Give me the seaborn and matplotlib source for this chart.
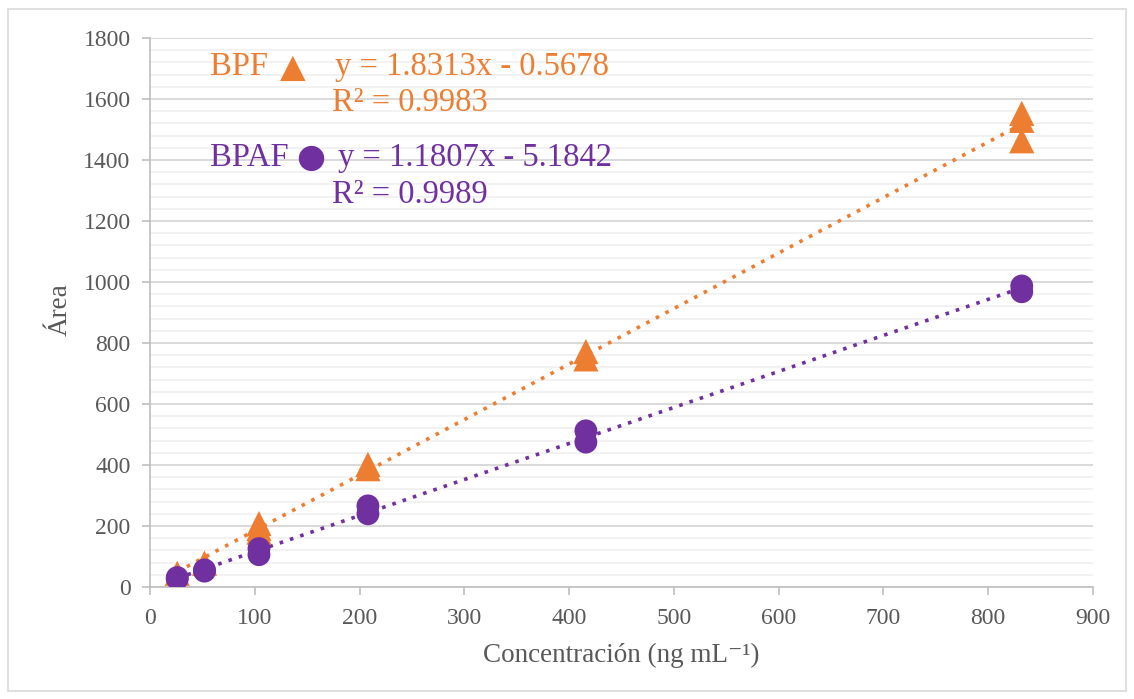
import matplotlib
matplotlib.use("Agg")
import matplotlib.pyplot as plt
import seaborn as sns
import pandas as pd
import numpy as np
from matplotlib.patches import Rectangle
from matplotlib.ticker import MultipleLocator

# Data
conc_bpf = [26, 52, 104, 104, 104, 208, 208, 416, 416, 832, 832, 832]
area_bpf = [45, 78, 208, 180, 192, 402, 388, 772, 748, 1553, 1530, 1463]
conc_bpaf = [26, 26, 52, 52, 104, 104, 208, 208, 416, 416, 832, 832]
area_bpaf = [27, 31, 52, 56, 106, 126, 240, 266, 475, 512, 968, 987]

series = ["BPF", "BPAF"]
colors = {"BPF": "#ED7D31", "BPAF": "#7030A0"}
markers = {"BPF": "^", "BPAF": "o"}
eq_text = {"BPF": "y = 1.8313x - 0.5678", "BPAF": "y = 1.1807x - 5.1842"}
r2_text = {"BPF": "R² = 0.9983", "BPAF": "R² = 0.9989"}

x_label = "Concentración (ng mL⁻¹)"
y_label = "Área"

df = pd.DataFrame({
    "conc": conc_bpf + conc_bpaf,
    "area": area_bpf + area_bpaf,
    "serie": ["BPF"] * len(conc_bpf) + ["BPAF"] * len(conc_bpaf),
})

sns.set_theme(style="white")
plt.rcParams["font.family"] = ["Liberation Serif", "DejaVu Sans"]

fig = plt.figure(figsize=(11.34, 6.99), dpi=100)
ax = fig.add_axes([150 / 1134, 1 - 587 / 699, (1093 - 150) / 1134, (587 - 38) / 699])

fig.patches.append(Rectangle((8 / 1134, 8 / 699), 1118 / 1134, 682 / 699,
                             transform=fig.transFigure, fill=False,
                             edgecolor="#D9D9D9", linewidth=1.2))

# grid
ax.set_xlim(0, 900)
ax.set_ylim(0, 1800)
ax.xaxis.set_major_locator(MultipleLocator(100))
ax.yaxis.set_major_locator(MultipleLocator(200))
ax.yaxis.set_minor_locator(MultipleLocator(40))
ax.grid(axis="y", which="major", color="#D9D9D9", linewidth=1.4, zorder=0)
ax.grid(axis="y", which="minor", color="#F2F2F2", linewidth=1.4, zorder=0)
ax.set_axisbelow(True)

for s in series:
    sub = df[df["serie"] == s]
    sns.regplot(data=sub, x="conc", y="area", ax=ax, scatter=False, ci=None,
                color=colors[s], truncate=True,
                line_kws={"linestyle": (0, (1, 2)), "linewidth": 2.6})

sns.scatterplot(data=df, x="conc", y="area", hue="serie", style="serie",
                palette=colors, markers=markers, size="serie",
                sizes={"BPF": 330, "BPAF": 270}, edgecolor="none",
                ax=ax, legend=False, zorder=3)

for side in ["top", "right"]:
    ax.spines[side].set_visible(False)
for side in ["left", "bottom"]:
    ax.spines[side].set_color("#BFBFBF")
    ax.spines[side].set_linewidth(1.2)

ax.tick_params(axis="both", which="major", direction="out", length=6, width=1.2,
               color="#BFBFBF", labelsize=17, labelcolor="#595959",
               left=True, bottom=True)
ax.tick_params(axis="y", which="major", pad=8)
ax.tick_params(axis="x", which="major", pad=9)
ax.tick_params(axis="y", which="minor", left=False)
ax.set_xlabel(x_label, fontsize=19.5, color="#595959")
ax.set_ylabel(y_label, fontsize=19.5, color="#595959")
ax.xaxis.set_label_coords(0.5, -(655 - 587) / 549, transform=ax.transAxes)
ax.yaxis.set_label_coords(-(150 - 60) / 943, 0.505, transform=ax.transAxes)
ax.xaxis.label.set_va("center")
ax.yaxis.label.set_va("center")

# annotation text
fam = ["Liberation Serif", "DejaVu Sans"]
fs = 23.5
ax.text(210 / 1134, 1 - 67 / 699, "BPF", transform=fig.transFigure, fontsize=fs,
        color=colors["BPF"], va="center", family=fam)
ax.text(280 / 1134, 1 - 67 / 699, "▲", transform=fig.transFigure, fontsize=24,
        color=colors["BPF"], va="center", family=["DejaVu Sans"])
ax.text(335 / 1134, 1 - 67 / 699, eq_text["BPF"], transform=fig.transFigure,
        fontsize=fs, color=colors["BPF"], va="center", family=fam)
ax.text(332 / 1134, 1 - 103 / 699, r2_text["BPF"], transform=fig.transFigure,
        fontsize=fs, color=colors["BPF"], va="center", family=fam)

ax.text(210 / 1134, 1 - 158 / 699, "BPAF", transform=fig.transFigure, fontsize=fs,
        color=colors["BPAF"], va="center", family=fam)
ax.text(296 / 1134, 1 - 157 / 699, "●", transform=fig.transFigure, fontsize=24,
        color=colors["BPAF"], va="center", family=["DejaVu Sans"])
ax.text(338 / 1134, 1 - 158 / 699, eq_text["BPAF"], transform=fig.transFigure,
        fontsize=fs, color=colors["BPAF"], va="center", family=fam)
ax.text(332 / 1134, 1 - 195 / 699, r2_text["BPAF"], transform=fig.transFigure,
        fontsize=fs, color=colors["BPAF"], va="center", family=fam)

fig.savefig("out.png", dpi=100)
